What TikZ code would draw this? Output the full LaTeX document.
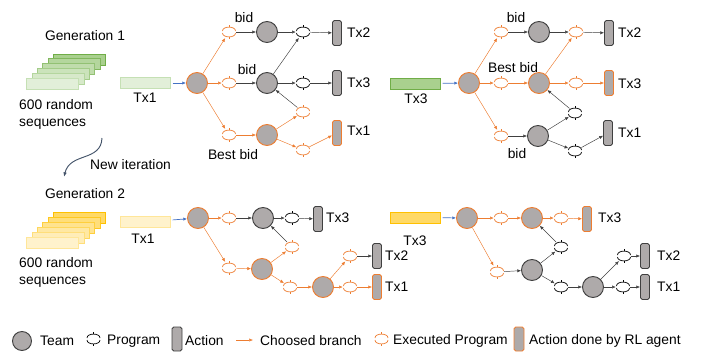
\documentclass[tikz,border=0pt]{standalone}
\usepackage{fontspec}
\setmainfont{Liberation Sans}
\usetikzlibrary{arrows.meta}
\definecolor{orng}{HTML}{ED7D31}
\definecolor{tgray}{HTML}{AEAAAA}
\definecolor{dline}{HTML}{404040}
\definecolor{blu}{HTML}{4472C4}
\definecolor{slate}{HTML}{44546A}
\definecolor{gfront}{HTML}{E2EFD9}
\definecolor{gback}{HTML}{A9D08E}
\definecolor{gedge}{HTML}{70AD47}
\definecolor{gedgel}{HTML}{C5E0B4}
\definecolor{yfront}{HTML}{FFF2CC}
\definecolor{yback}{HTML}{FFD966}
\definecolor{yedge}{HTML}{FFC000}
\definecolor{yedgel}{HTML}{FFE699}

\tikzset{
  team/.style={circle, minimum size=0.63cm, inner sep=0pt, fill=tgray, draw=dline, line width=0.8pt},
  bestteam/.style={team, draw=orng},
  act/.style={rectangle, rounded corners=1.5pt, minimum width=0.27cm, minimum height=0.75cm, inner sep=0pt, fill=tgray, draw=dline, line width=0.8pt},
  rlact/.style={act, draw=orng},
  progbox/.style={circle, minimum size=0.42cm, inner sep=0pt},
  progicon/.pic={
    \draw[line width=0.6pt] (-6.5,-1) .. controls (-6.5,-6.2) and (6.5,-6.2) .. (6.5,-1);
    \draw[line width=0.6pt] (-6.5,1) .. controls (-6.5,6.2) and (6.5,6.2) .. (6.5,1);
    \draw[line width=0.6pt] (0,-4.6) -- (0,-6.6);
    \draw[line width=0.6pt] (0,4.6) -- (0,6.6);
  },
  arr/.style={-{Latex[length=3.2pt,width=2.8pt]}, dline, line width=0.4pt},
  oarr/.style={arr, orng},
  barr/.style={arr, blu, line width=0.6pt, shorten <=2pt},
  txt/.style={font=\fontsize{11.8}{14.5}\selectfont, inner sep=0pt},
  seqbox/.style={rectangle, minimum width=1.56cm, minimum height=0.33cm, inner sep=0pt, line width=0.6pt},
  txbox/.style={rectangle, minimum width=1.5cm, minimum height=0.33cm, inner sep=0pt, line width=0.6pt},
}
\newcommand{\progat}[3]{%
  \node[progbox] (#1) at (#2) {};
  \pic[#3] at (#1) {progicon};}

\begin{document}
\begin{tikzpicture}[x=0.03cm, y=-0.03cm]
  \useasboundingbox (0,0) rectangle (706,353);

  % generation 1
  \node[txt] (gen1) at (85,36) {Generation 1};
  \foreach \i in {5,4,...,0}{
    \pgfmathtruncatemacro{\pct}{20*\i}
    \node[seqbox, fill=gback!\pct!gfront, draw=gedge!\pct!gedgel] (ga\i) at (52.5+5.4*\i, 83.5-4.8*\i) {};
  }
  \node[txt, align=left, anchor=west] (seq1) at (19,114.5) {600 random\\sequences};

  \node[txbox, fill=gfront, draw=gedgel] (atx) at (145,83) {};
  \node[txt] (atxl) at (145,98) {Tx1};
  \node[bestteam] (a0) at (197,83) {};
  \progat{ap1}{229,32}{orng}
  \progat{ap2}{229,83}{orng}
  \progat{ap3}{229,135}{orng}
  \node[team] (at1) at (267,32) {};
  \node[team] (at2) at (267,83) {};
  \node[bestteam] (at3) at (267,135) {};
  \progat{ap4}{303,32}{black}
  \progat{ap5}{303,83}{black}
  \progat{ap6}{303,112}{orng}
  \progat{ap7}{303,150}{orng}
  \node[act] (aa1) at (337,33) {};
  \node[act] (aa2) at (337,83) {};
  \node[rlact] (aa3) at (337,133) {};
  \node[txt, anchor=west] (aa1l) at (347,33) {Tx2};
  \node[txt, anchor=west] (aa2l) at (347,83) {Tx3};
  \node[txt, anchor=west] (aa3l) at (347,131) {Tx1};
  \node[txt] (abid1) at (244,18) {bid};
  \node[txt] (abid2) at (247,70) {bid};
  \node[txt] (abest) at (233,155) {Best bid};
  \draw[barr] (atx) -- (a0);
  \begin{scope}[oarr]
    \draw (a0) -- (ap1);
    \draw (a0) -- (ap2);
    \draw (a0) -- (ap3);
    \draw (ap3) -- (at3);
    \draw (at3) -- (ap6);
    \draw (at3) -- (ap7);
    \draw (ap7) -- (aa3);
  \end{scope}
  \begin{scope}[arr]
    \draw (ap1) -- (at1);
    \draw (ap2) -- (at2);
    \draw (at1) -- (ap4);
    \draw (at2) -- (ap4);
    \draw (at2) -- (ap5);
    \draw (ap4) -- (aa1);
    \draw (ap5) -- (aa2);
    \draw (ap6) -- (at2);
  \end{scope}

  % tx3 after generation 1
  \node[txbox, fill=gback, draw=gedge] (btx) at (415,83.5) {};
  \node[txt] (btxl) at (416,99) {Tx3};
  \node[bestteam] (b0) at (469,83) {};
  \progat{bp1}{501,32}{orng}
  \progat{bp2}{501,83}{orng}
  \progat{bp3}{501,136}{orng}
  \node[team] (bt1) at (539,32) {};
  \node[bestteam] (bt2) at (539,83) {};
  \node[team] (bt3) at (538,136) {};
  \progat{bp4}{576,32}{orng}
  \progat{bp5}{576,83}{orng}
  \progat{bp6}{575,113}{black}
  \progat{bp7}{575,151}{black}
  \node[act] (ba1) at (609,33) {};
  \node[rlact] (ba2) at (609,83) {};
  \node[act] (ba3) at (608,133) {};
  \node[txt, anchor=west] (ba1l) at (618,33) {Tx2};
  \node[txt, anchor=west] (ba2l) at (618,84) {Tx3};
  \node[txt, anchor=west] (ba3l) at (618,133) {Tx1};
  \node[txt] (bbid1) at (516,18) {bid};
  \node[txt] (bbest) at (513,68) {Best bid};
  \node[txt] (bbid2) at (517,154) {bid};
  \draw[barr] (btx) -- (b0);
  \begin{scope}[oarr]
    \draw (b0) -- (bp1);
    \draw (b0) -- (bp2);
    \draw (b0) -- (bp3);
    \draw (bp2) -- (bt2);
    \draw (bt2) -- (bp4);
    \draw (bt2) -- (bp5);
    \draw (bp5) -- (ba2);
  \end{scope}
  \begin{scope}[arr]
    \draw (bp1) -- (bt1);
    \draw (bp3) -- (bt3);
    \draw (bt1) -- (bp4);
    \draw (bp4) -- (ba1);
    \draw (bt3) -- (bp6);
    \draw (bp6) -- (bt2);
    \draw (bt3) -- (bp7);
    \draw (bp7) -- (ba3);
  \end{scope}

  % new iteration
  \coordinate (it0) at (102,138);
  \coordinate (it1) at (64,177);
  \draw[slate, line width=0.8pt, -{Latex[length=4pt,width=3pt]}] (it0) .. controls (101,162) and (70,152) .. (it1);
  \node[txt, anchor=west] (iterl) at (90,165) {New iteration};

  % generation 2
  \node[txt] (gen2) at (85,194) {Generation 2};
  \foreach \i in {5,4,...,0}{
    \pgfmathtruncatemacro{\pct}{20*\i}
    \node[seqbox, fill=yback!\pct!yfront, draw=yedge!\pct!yedgel] (gb\i) at (52.5+5.4*\i, 242.5-5*\i) {};
  }
  \node[txt, align=left, anchor=west] (seq2) at (19,272.5) {600 random\\sequences};

  \node[txbox, fill=yfront, draw=yedgel] (ctx) at (145,222) {};
  \node[txt] (ctxl) at (143,239) {Tx1};
  \node[bestteam] (c0) at (198,218) {};
  \progat{cp1}{229,218}{orng}
  \node[team] (ct1) at (263,218) {};
  \progat{cp2}{292,218}{black}
  \node[act] (ca1) at (318,219) {};
  \node[txt, anchor=west] (ca1l) at (326,218) {Tx3};
  \progat{cp3}{229,268}{orng}
  \node[bestteam] (ct2) at (262,269) {};
  \progat{cp4}{292,247}{orng}
  \progat{cp5}{290,287}{orng}
  \node[bestteam] (ct3) at (323,287) {};
  \progat{cp6}{350,256}{orng}
  \progat{cp7}{350,287}{orng}
  \node[act] (ca2) at (377,256) {};
  \node[rlact] (ca3) at (377,287) {};
  \node[txt, anchor=west] (ca2l) at (385,256) {Tx2};
  \node[txt, anchor=west] (ca3l) at (385,287) {Tx1};
  \draw[barr] (ctx) -- (c0);
  \begin{scope}[oarr]
    \draw (c0) -- (cp1);
    \draw (c0) -- (cp3);
    \draw (cp3) -- (ct2);
    \draw (ct2) -- (cp4);
    \draw (ct2) -- (cp5);
    \draw (cp5) -- (ct3);
    \draw (ct3) -- (cp6);
    \draw (ct3) -- (cp7);
    \draw (cp7) -- (ca3);
  \end{scope}
  \begin{scope}[arr]
    \draw (cp1) -- (ct1);
    \draw (ct1) -- (cp2);
    \draw (cp2) -- (ca1);
    \draw (cp4) -- (ct1);
    \draw (cp6) -- (ca2);
  \end{scope}

  % tx3 after generation 2
  \node[txbox, fill=yback, draw=yedge] (dtx) at (415,217.5) {};
  \node[txt] (dtxl) at (415,241) {Tx3};
  \node[bestteam] (d0) at (467,218) {};
  \progat{dp1}{501,218}{orng}
  \node[bestteam] (dt1) at (532,218) {};
  \progat{dp2}{561,218}{orng}
  \node[rlact] (da1) at (587,219) {};
  \node[txt, anchor=west] (da1l) at (598,218) {Tx3};
  \progat{dp3}{497,272}{orng}
  \node[team] (dt2) at (532,270) {};
  \progat{dp4}{561,247}{black}
  \progat{dp5}{561,287}{black}
  \node[team] (dt3) at (593,287) {};
  \progat{dp6}{624,256}{black}
  \progat{dp7}{623,287}{black}
  \node[act] (da2) at (645,256) {};
  \node[act] (da3) at (645,287) {};
  \node[txt, anchor=west] (da2l) at (657,256) {Tx2};
  \node[txt, anchor=west] (da3l) at (657,287) {Tx1};
  \draw[barr] (dtx) -- (d0);
  \begin{scope}[oarr]
    \draw (d0) -- (dp1);
    \draw (dp1) -- (dt1);
    \draw (dt1) -- (dp2);
    \draw (dp2) -- (da1);
    \draw (d0) -- (dp3);
  \end{scope}
  \begin{scope}[arr]
    \draw (dp3) -- (dt2);
    \draw (dt2) -- (dp4);
    \draw (dp4) -- (dt1);
    \draw (dt2) -- (dp5);
    \draw (dp5) -- (dt3);
    \draw (dt3) -- (dp6);
    \draw (dp6) -- (da2);
    \draw (dt3) -- (dp7);
    \draw (dp7) -- (da3);
  \end{scope}

  % legend
  \node[team, minimum size=0.57cm] (lteam) at (22,341) {};
  \node[txt, anchor=west] (lteaml) at (40,341) {Team};
  \progat{lprog}{93.5,339}{black}
  \node[txt, anchor=west] (lprogl) at (107,341) {Program};
  \node[act, minimum width=0.3cm, minimum height=0.72cm] (lact) at (177,339) {};
  \node[txt, anchor=west] (lactl) at (185,341) {Action};
  \coordinate (lbr1) at (236,340);
  \coordinate (lbr2) at (253,340);
  \draw[oarr] (lbr1) -- (lbr2);
  \node[txt, anchor=west] (lbrl) at (260,341) {Choosed branch};
  \progat{lexec}{381.5,339}{orng}
  \node[txt, anchor=west] (lexecl) at (393,341) {Executed Program};
  \node[rlact, minimum width=0.3cm, minimum height=0.72cm] (lrl) at (519,339) {};
  \node[txt, anchor=west] (lrll) at (529,341) {Action done by RL agent};
\end{tikzpicture}
\end{document}
